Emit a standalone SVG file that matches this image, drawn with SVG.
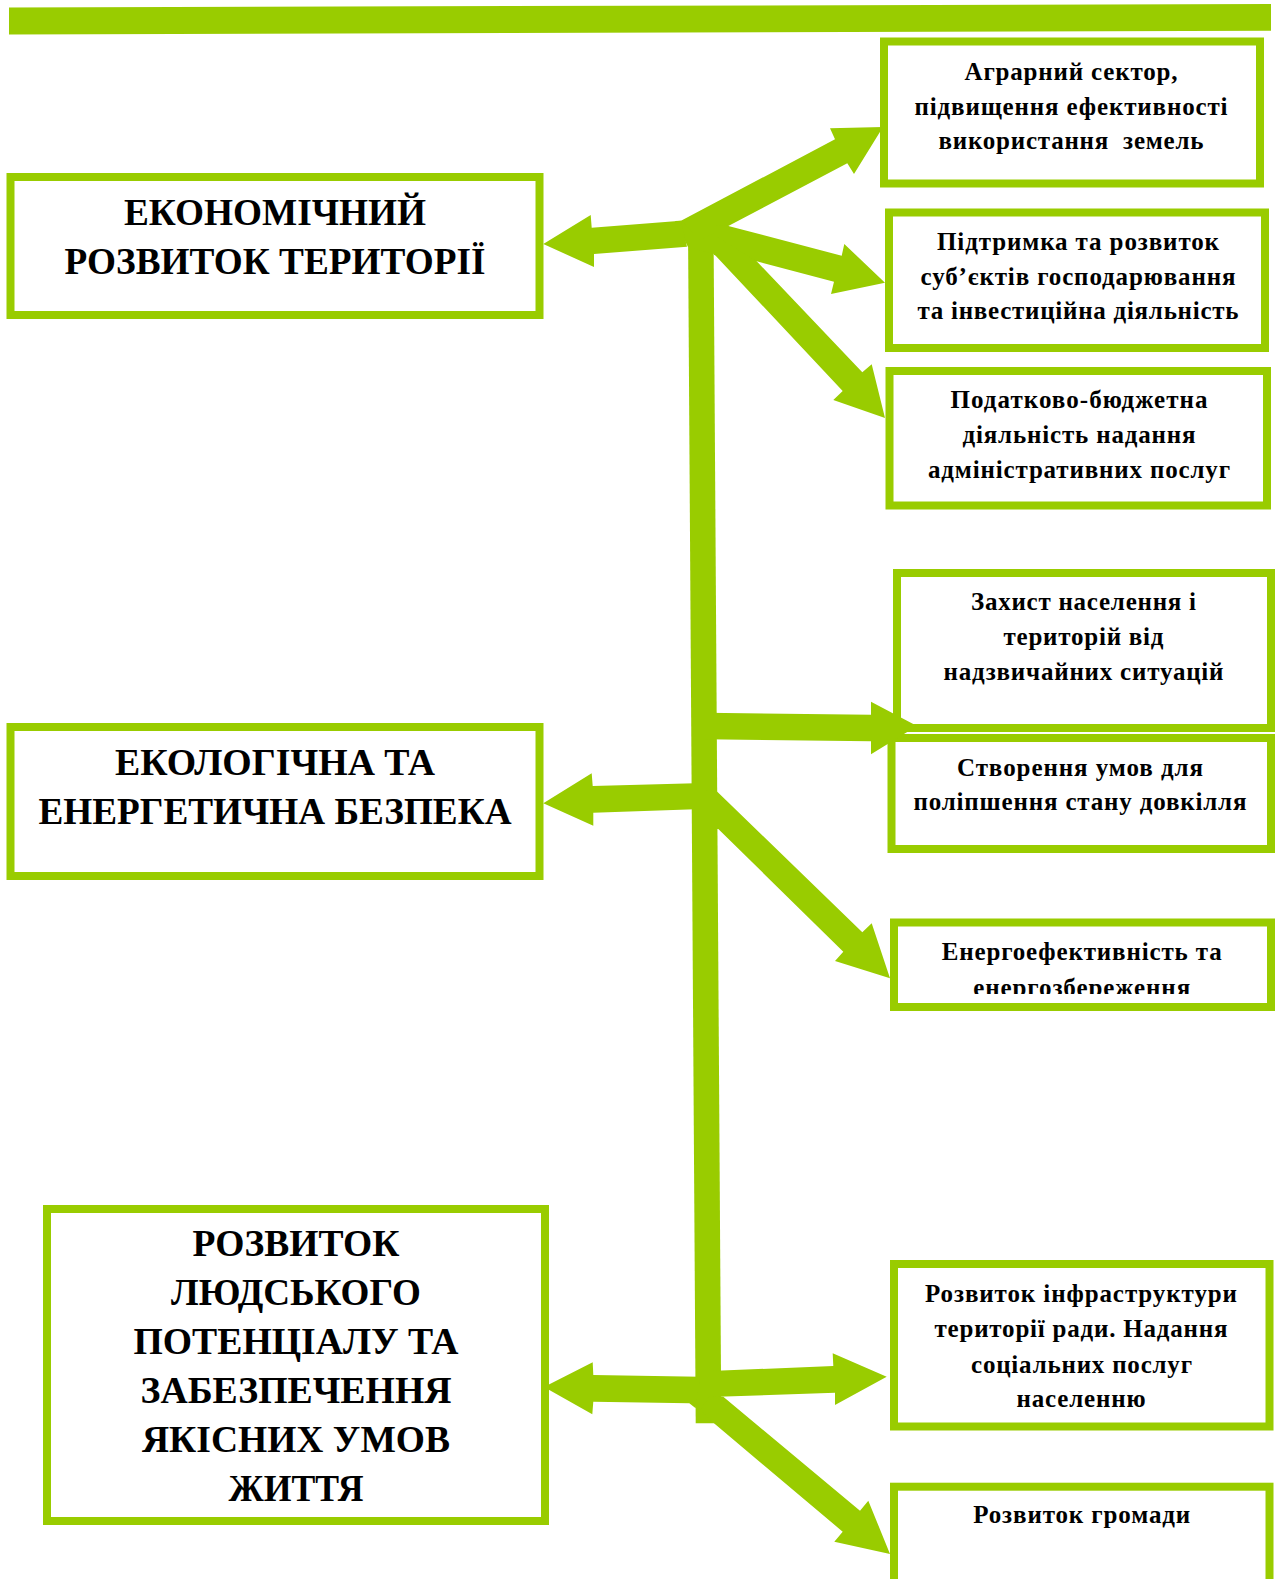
<svg xmlns="http://www.w3.org/2000/svg" width="1278" height="1579" viewBox="0 0 1278 1579">
<style>
.box{fill:#fff;stroke:#99CC00;stroke-width:8}
.arr{fill:#99CC00}
.big{font-family:"Liberation Serif","Times New Roman",serif;font-weight:bold;font-size:37px;text-anchor:middle;fill:#000}
.sm{font-family:"Liberation Serif","Times New Roman",serif;font-weight:bold;font-size:25px;text-anchor:middle;fill:#000}
</style>
<defs>
<clipPath id="clipEn"><rect x="894" y="922" width="377" height="72"/></clipPath>
</defs>
<rect width="1278" height="1579" fill="#fff"/>
<polygon id="topbar" class="arr" points="9,7.5 1271,4 1271,30.7 9,34.5"/>

<g id="node-econ">
<rect class="box" x="10.5" y="177" width="529" height="138"/>
<text class="big" x="275" y="224.5" textLength="302" lengthAdjust="spacingAndGlyphs">ЕКОНОМІЧНИЙ</text>
<text class="big" x="275" y="273.5" textLength="421" lengthAdjust="spacingAndGlyphs">РОЗВИТОК ТЕРИТОРІЇ</text>
</g>
<g id="node-eco">
<rect class="box" x="10.5" y="727" width="529" height="149"/>
<text class="big" x="275" y="774.5" textLength="320" lengthAdjust="spacingAndGlyphs">ЕКОЛОГІЧНА ТА</text>
<text class="big" x="275" y="823.5" textLength="473" lengthAdjust="spacingAndGlyphs">ЕНЕРГЕТИЧНА БЕЗПЕКА</text>
</g>
<g id="node-human">
<rect class="box" x="47" y="1209" width="498" height="312"/>
<text class="big" x="296" y="1256" textLength="207" lengthAdjust="spacingAndGlyphs">РОЗВИТОК</text>
<text class="big" x="296" y="1305" textLength="250" lengthAdjust="spacingAndGlyphs">ЛЮДСЬКОГО</text>
<text class="big" x="296" y="1354" textLength="325" lengthAdjust="spacingAndGlyphs">ПОТЕНЦІАЛУ ТА</text>
<text class="big" x="296" y="1403" textLength="311" lengthAdjust="spacingAndGlyphs">ЗАБЕЗПЕЧЕННЯ</text>
<text class="big" x="296" y="1452" textLength="308" lengthAdjust="spacingAndGlyphs">ЯКІСНИХ УМОВ</text>
<text class="big" x="296" y="1501" textLength="135" lengthAdjust="spacingAndGlyphs">ЖИТТЯ</text>
</g>

<g id="node-agro">
<rect class="box" x="884" y="41.5" width="376" height="142"/>
<text class="sm" x="1071" y="80" textLength="213">Аграрний сектор,</text>
<text class="sm" x="1071" y="115" textLength="313">підвищення ефективності</text>
<text class="sm" x="1071" y="148.5" textLength="265" xml:space="preserve">використання  земель</text>
</g>
<g id="node-business">
<rect class="box" x="889" y="212.5" width="376" height="135.5"/>
<text class="sm" x="1078" y="250" textLength="282">Підтримка та розвиток</text>
<text class="sm" x="1078" y="285" textLength="315">суб’єктів господарювання</text>
<text class="sm" x="1078" y="318.5" textLength="321">та інвестиційна діяльність</text>
</g>
<g id="node-tax">
<rect class="box" x="889.5" y="371" width="377.5" height="134.5"/>
<text class="sm" x="1079" y="408" textLength="257">Податково-бюджетна</text>
<text class="sm" x="1079" y="443" textLength="233">діяльність надання</text>
<text class="sm" x="1079" y="478" textLength="302">адміністративних послуг</text>
</g>
<g id="node-protect">
<rect class="box" x="897" y="573" width="374" height="155"/>
<text class="sm" x="1083.5" y="610" textLength="225">Захист населення і</text>
<text class="sm" x="1083.5" y="645" textLength="160">територій від</text>
<text class="sm" x="1083.5" y="680" textLength="280">надзвичайних ситуацій</text>
</g>
<g id="node-environment">
<rect class="box" x="891.5" y="738" width="379.5" height="111"/>
<text class="sm" x="1080" y="776" textLength="246">Створення умов для</text>
<text class="sm" x="1080" y="810" textLength="333">поліпшення стану довкілля</text>
</g>
<g id="node-energy">
<rect class="box" x="894" y="922.5" width="377" height="84.5"/>
<g clip-path="url(#clipEn)">
<text class="sm" x="1081.7" y="960" textLength="280">Енергоефективність та</text>
<text class="sm" x="1081.7" y="996" textLength="217">енергозбереження</text>
</g>
</g>
<g id="node-infra">
<rect class="box" x="894" y="1264" width="375.5" height="162.5"/>
<text class="sm" x="1081" y="1301.7" textLength="312">Розвиток інфраструктури</text>
<text class="sm" x="1081" y="1337.3" textLength="293">території ради. Надання</text>
<text class="sm" x="1081.5" y="1372.7" textLength="221">соціальних послуг</text>
<text class="sm" x="1081" y="1406.7" textLength="129">населенню</text>
</g>
<g id="node-community">
<rect class="box" x="894" y="1486.7" width="375.5" height="200"/>
<text class="sm" x="1081.7" y="1523.3" textLength="217">Розвиток громади</text>
</g>

<g id="connectors" class="arr">
<polygon points="688,225 713.5,225 721.3,1423.3 695.7,1423.3"/>
<polygon points="675,221 681,220.7 728.3,226 756.7,261.3 714,254 688,247"/>
<polygon points="687,246.7 594,254 594,267 543.3,244 590.7,215 591.7,227.7 681,220.7"/>
<polygon points="681,220.7 835,139.3 830,128.3 883,127 854,174 847.3,163.3 728.3,226 700,240"/>
<polygon points="714,225 728.3,226 841.7,255.7 844.3,244 885,282.7 831,294 834,281.7 756.7,261.3 714,255"/>
<polygon points="714,254 842.7,391 833.3,400 885,418 871.7,364.3 862.3,372.3 756.7,261.3 714,235"/>
<polygon points="705,712.7 871,714.7 871,701.7 917,726 871,754.3 871,741.3 705,739.3"/>
<polygon points="695,783.2 592.7,786 591.7,773.3 543.3,803.3 593.3,825.7 593.3,812.7 695,809.2"/>
<polygon points="705,790 717.3,791.7 862.3,932.3 871.7,923.3 890,978.3 835,961 843.3,951.7 718.3,829 705,829"/>
<polygon points="700,1376.8 593.3,1375 592.7,1362.3 544,1387 592.3,1414.3 593.3,1401.7 689.3,1403.3 695.7,1408.3"/>
<polygon points="710,1371.1 833.3,1366 832.7,1353.3 886.7,1376.7 835,1405 835,1392.7 710,1397"/>
<polygon points="710,1396 723.3,1396.7 860,1510.7 868.3,1500.7 890,1554 834.3,1541.7 842.7,1531.7 714,1423.3 700,1410"/>
</g>
</svg>
